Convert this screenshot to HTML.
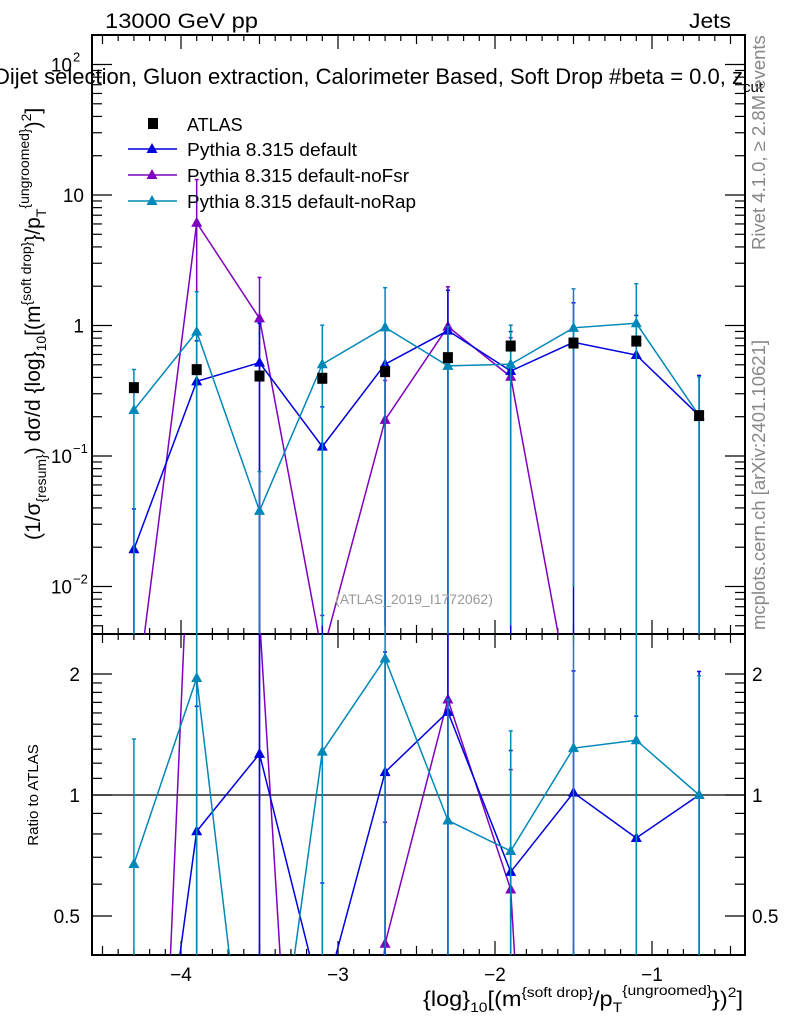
<!DOCTYPE html>
<html><head><meta charset="utf-8"><style>
html,body{margin:0;padding:0;background:#fff;overflow:hidden;}
svg{display:block;font-family:"Liberation Sans",sans-serif;}
</style></head><body>
<svg id="chart" width="786" height="1024" viewBox="0 0 786 1024" xmlns="http://www.w3.org/2000/svg">
<defs>
<clipPath id="cm"><rect x="92" y="35" width="653" height="599"/></clipPath>
<clipPath id="cr"><rect x="92" y="634" width="653" height="321"/></clipPath>
</defs>
<rect x="0" y="0" width="786" height="1024" fill="#fff"/>
<g id="axes"></g>
<g id="marks"></g>
<text x="105" y="28" font-size="21" textLength="153" lengthAdjust="spacingAndGlyphs">13000 GeV pp</text>
<text x="689" y="28" font-size="21" textLength="42" lengthAdjust="spacingAndGlyphs">Jets</text>
<text x="-6" y="84" font-size="22">Dijet selection, Gluon extraction, Calorimeter Based, Soft Drop #beta = 0.0, z<tspan font-size="15" dy="8">cut</tspan></text>
<text x="414" y="604" font-size="14" fill="#999" text-anchor="middle">(ATLAS_2019_I1772062)</text>
<text transform="translate(765,250) rotate(-90)" font-size="18.5" fill="#888">Rivet 4.1.0, ≥ 2.8M events</text>
<text transform="translate(765,630) rotate(-90)" font-size="18.5" fill="#888">mcplots.cern.ch [arXiv:2401.10621]</text>
<text transform="translate(40,540) rotate(-90)" font-size="21">(1/σ<tspan font-size="14" dy="6">{resum}</tspan><tspan dy="-6">) dσ/d {log}</tspan><tspan font-size="14" dy="6">10</tspan><tspan dy="-6">[(m</tspan><tspan font-size="14" dy="-9">{soft drop}</tspan><tspan dy="9">}/p</tspan><tspan font-size="14" dy="6">T</tspan><tspan font-size="14" dy="-17">{ungroomed}</tspan><tspan dy="11">)</tspan><tspan font-size="14" dy="-9">2</tspan><tspan dy="9">]</tspan></text>
<text transform="translate(38,795) rotate(-90)" font-size="15" text-anchor="middle">Ratio to ATLAS</text>
<text x="423" y="1006" font-size="21" textLength="320" lengthAdjust="spacingAndGlyphs">{log}<tspan font-size="14" dy="6">10</tspan><tspan dy="-6">[(m</tspan><tspan font-size="14" dy="-9">{soft drop}</tspan><tspan dy="9">/p</tspan><tspan font-size="14" dy="6">T</tspan><tspan font-size="14" dy="-17">{ungroomed}</tspan><tspan dy="11">})</tspan><tspan font-size="14" dy="-9">2</tspan><tspan dy="9">]</tspan></text>
<g id="legend">
<rect x="148" y="118" width="10" height="11" fill="#000"/>
<text x="187" y="131" font-size="18">ATLAS</text>
<line x1="128" y1="149" x2="177" y2="149" stroke="#0000e0" stroke-width="1.5"/>
<polygon points="152,143 146.5,153 157.5,153" fill="#0000e0"/>
<text x="187" y="156" font-size="18" textLength="170" lengthAdjust="spacingAndGlyphs">Pythia 8.315 default</text>
<line x1="128" y1="175" x2="177" y2="175" stroke="#7f00bf" stroke-width="1.5"/>
<polygon points="152,169 146.5,179 157.5,179" fill="#7f00bf"/>
<text x="187" y="182" font-size="18" textLength="222" lengthAdjust="spacingAndGlyphs">Pythia 8.315 default-noFsr</text>
<line x1="128" y1="201" x2="177" y2="201" stroke="#0088b8" stroke-width="1.5"/>
<polygon points="152,195 146.5,205 157.5,205" fill="#0088b8"/>
<text x="187" y="208" font-size="18" textLength="229" lengthAdjust="spacingAndGlyphs">Pythia 8.315 default-noRap</text>
</g>
</svg>
<script>
const xBins = [-4.3,-3.9,-3.5,-3.1,-2.7,-2.3,-1.9,-1.5,-1.1,-0.7];
const atlasVals = [0.334,0.459,0.41,0.394,0.443,0.567,0.696,0.734,0.76,0.204];
const defaultVals = [0.0193,0.373,0.519,0.118,0.505,0.913,0.448,0.744,0.594,0.204];
const defaultErrs = [0.02,0.39,0.52,0.12,0.5,0.95,0.45,0.75,0.6,0.21];
const nofsrVals = [0.001,6.13,1.135,0.003,0.189,0.98,0.405,0.001,0.0005,0.0003];
const nofsrErrs = [0.001,7.0,1.2,0.003,0.19,1.0,0.4,0.001,0.0005,0.0003];
const noRapVals = [0.225,0.897,0.038,0.505,0.968,0.49,0.505,0.96,1.04,0.204];
const noRapErrs = [0.235,0.92,0.038,0.5,0.98,0.49,0.5,0.95,1.05,0.2];
const xTicks = [-4,-3,-2,-1];
const xTickLabels = ["−4","−3","−2","−1"];
const ratioTicks = [0.5,1,2];
const ratioTickLabels = ["0.5","1","2"];

const NS="http://www.w3.org/2000/svg";
const L=92,R=745,MT=35,MB=634,RT=634,RB=955;
const X=v=>338+157*(v+3);
const Y=v=>325.5-130.5*Math.log10(v);
const YR=r=>795-121*Math.log2(r);
function mk(tag,attrs,parent){const e=document.createElementNS(NS,tag);for(const k in attrs)e.setAttribute(k,attrs[k]);parent.appendChild(e);return e;}
const axes=document.getElementById('axes');
const marks=document.getElementById('marks');

let f1=mk('rect',{x:L,y:MT,width:R-L,height:MB-MT,fill:'none',stroke:'#000','stroke-width':2},axes);


let f2=mk('rect',{x:L,y:RT,width:R-L,height:RB-RT,fill:'none',stroke:'#000','stroke-width':2},axes);



for(let i=-46;i<=-4;i++){const v=i/10;const px=X(v);if(px<L||px>R)continue;
 const major=Math.abs(v-Math.round(v))<1e-6;const half=Math.abs(v*2-Math.round(v*2))<1e-6;
 const len=major?14:(half?9:6);
 for(const [t,b] of [[MT,MB],[RT,RB]]){
  let a=mk('line',{x1:px,y1:b,x2:px,y2:b-len,stroke:'#000','stroke-width':1.2},axes);
  
  
  let c=mk('line',{x1:px,y1:t,x2:px,y2:t+len,stroke:'#000','stroke-width':1.2},axes);
  
  
 }}
xTicks.forEach((v,i)=>{let t=mk('text',{x:X(v),y:981,'font-size':19,'text-anchor':'middle'},axes);t.textContent=xTickLabels[i];
 
 });

for(let d=-3;d<=2;d++){for(let m=1;m<=9;m++){const v=m*Math.pow(10,d);const py=Y(v);if(py<MT||py>MB)continue;
 const len=m===1?20:10;
 let a=mk('line',{x1:L,y1:py,x2:L+len,y2:py,stroke:'#000','stroke-width':1.2},axes);
 
 
 let b=mk('line',{x1:R,y1:py,x2:R-len,y2:py,stroke:'#000','stroke-width':1.2},axes);
 
 }}
const ylab=[[2,'10','2'],[1,'10',''],[0,'1',''],[-1,'10','−1'],[-2,'10','−2']];
ylab.forEach(([d,base,sup])=>{const py=Y(Math.pow(10,d));
 let t=mk('text',{x:sup?72:84,y:py+7,'font-size':19,'text-anchor':'end'},axes);t.textContent=base;
 
 
 if(sup){let s=mk('text',{x:73,y:py-3,'font-size':13},axes);s.textContent=sup;
 
 }});

const rmin=[0.4,0.5,0.6,0.7,0.8,0.9,1,1.1,1.2,1.3,1.4,1.5,1.6,1.7,1.8,1.9,2];
rmin.forEach(r=>{const py=YR(r);if(py<RT||py>RB)return;const major=ratioTicks.includes(r);const len=major?20:10;
 let a=mk('line',{x1:L,y1:py,x2:L+len,y2:py,stroke:'#000','stroke-width':1.2},axes);
 
 
 let b=mk('line',{x1:R,y1:py,x2:R-len,y2:py,stroke:'#000','stroke-width':1.2},axes);
 
 });
ratioTicks.forEach((r,i)=>{const py=YR(r);
 let t=mk('text',{x:80,y:py+7,'font-size':19,'text-anchor':'end'},axes);t.textContent=ratioTickLabels[i];
 
 
 let t2=mk('text',{x:752,y:py+7,'font-size':19},axes);t2.textContent=ratioTickLabels[i];
 
 });
let one=mk('line',{x1:L,y1:YR(1),x2:R,y2:YR(1),stroke:'#000','stroke-width':1.2},axes);



const gm=mk('g',{'clip-path':'url(#cm)'},marks);


const gr=mk('g',{'clip-path':'url(#cr)'},marks);



function series(vals,errs,color,name){
 const ptsM=vals.map((v,i)=>X(xBins[i])+','+Y(v)).join(' ');
 xBins.forEach((x,i)=>{const lo=vals[i]-errs[i];const y1=lo>0?Y(lo):MB+5;const y2=Y(vals[i]+errs[i]);
  let e=mk('line',{x1:X(x),y1:y1,x2:X(x),y2:y2,stroke:color,'stroke-width':1.5},gm);
  
  
  let c=mk('line',{x1:X(x)-2,y1:y2,x2:X(x)+2,y2:y2,stroke:color,'stroke-width':1.5},gm);
  
  });
 let pl=mk('polyline',{points:ptsM,fill:'none',stroke:color,'stroke-width':1.5},gm);
 
 
 xBins.forEach((x,i)=>{const cx=X(x),cy=Y(vals[i]);
  let p=mk('polygon',{points:`${cx},${cy-6} ${cx-5.5},${cy+4} ${cx+5.5},${cy+4}`,fill:color},gm);
  
  });
 const rat=vals.map((v,i)=>v/atlasVals[i]);
 const rer=errs.map((e,i)=>e/atlasVals[i]);
 xBins.forEach((x,i)=>{const lo=rat[i]-rer[i];const y1=lo>0?YR(lo):RB+5;const y2=YR(rat[i]+rer[i]);
  let e=mk('line',{x1:X(x),y1:y1,x2:X(x),y2:y2,stroke:color,'stroke-width':1.5},gr);
  
  
  let c=mk('line',{x1:X(x)-2,y1:y2,x2:X(x)+2,y2:y2,stroke:color,'stroke-width':1.5},gr);
  
  });
 let rl=mk('polyline',{points:rat.map((r,i)=>X(xBins[i])+','+YR(r)).join(' '),fill:'none',stroke:color,'stroke-width':1.5},gr);
 
 
 xBins.forEach((x,i)=>{const cx=X(x),cy=YR(rat[i]);
  let p=mk('polygon',{points:`${cx},${cy-6} ${cx-5.5},${cy+4} ${cx+5.5},${cy+4}`,fill:color},gr);
  
  });
}
series(nofsrVals,nofsrErrs,'#7f00bf','nofsr');
series(defaultVals,defaultErrs,'#0000e0','default');
series(noRapVals,noRapErrs,'#0088b8','norap');

atlasVals.forEach((v,i)=>{const cx=X(xBins[i]),cy=Y(v);
 let r=mk('rect',{x:cx-5,y:cy-5.5,width:10,height:11,fill:'#000'},gm);
 
 });
</script>
</body></html>
